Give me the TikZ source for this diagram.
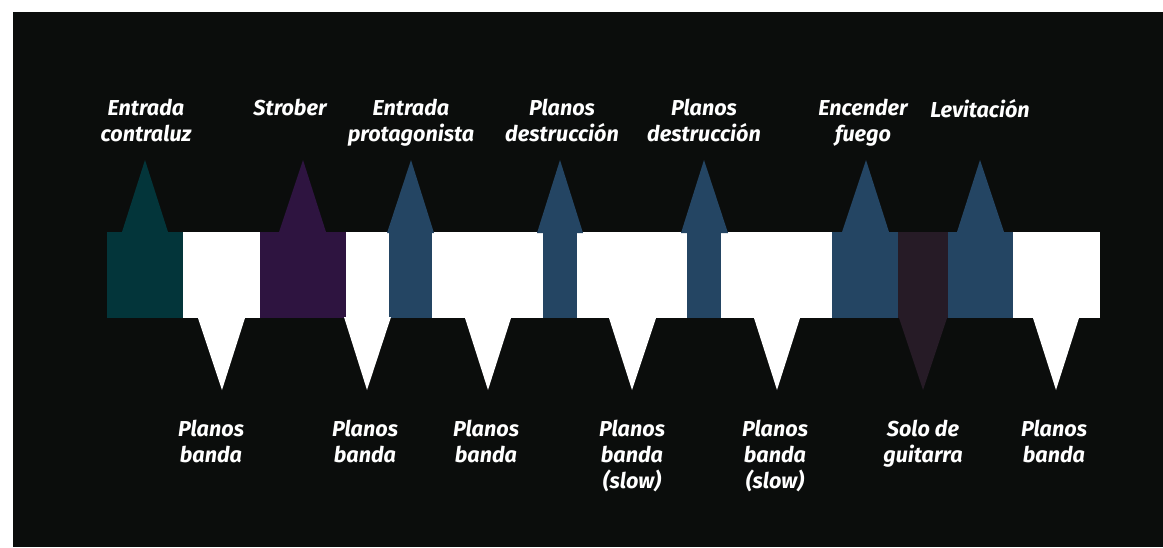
\documentclass[tikz,border=0pt]{standalone}
\usepackage{fontspec}
\setmainfont{Fira Sans}
\definecolor{bgdark}{HTML}{0B0D0C}
\definecolor{cteal}{HTML}{03353A}
\definecolor{cpurple}{HTML}{2E1440}
\definecolor{cblue}{HTML}{244563}
\definecolor{cplum}{HTML}{261B26}
\tikzset{
  lbl/.style={text=white, font=\fontsize{21.6}{26}\selectfont\bfseries\itshape, align=center, inner sep=0pt, anchor=north},
}
\begin{document}
\begin{tikzpicture}[x=1pt,y=-1pt]
\useasboundingbox (0,0) rectangle (1163,547);
\fill[white] (0,0) rectangle (1163,547);
\fill[bgdark] (13,12) rectangle (1163,547);
% band segments
\fill[cteal]   (107,232) rectangle (183,318);
\fill[white]   (183,232) rectangle (260,318);
\fill[cpurple] (260,232) rectangle (346,318);
\fill[white]   (346,232) rectangle (389,318);
\fill[cblue]   (389,232) rectangle (432,318);
\fill[white]   (432,232) rectangle (543,318);
\fill[cblue]   (543,232) rectangle (577,318);
\fill[white]   (577,232) rectangle (687,318);
\fill[cblue]   (687,232) rectangle (721,318);
\fill[white]   (721,232) rectangle (832,318);
\fill[cblue]   (832,232) rectangle (898,318);
\fill[cplum]   (898,232) rectangle (948,318);
\fill[cblue]   (948,232) rectangle (1013,318);
\fill[white]   (1013,232) rectangle (1100,318);
% up triangles
\fill[cteal]   (122,232) -- (145,160) -- (168,232) -- cycle;
\fill[cpurple] (279,232) -- (303,160) -- (326,232) -- cycle;
\fill[cblue]   (387,233) -- (411,160) -- (434,233) -- cycle;
\fill[cblue]   (537,233) -- (560,160) -- (583,233) -- cycle;
\fill[cblue]   (681,233) -- (704,160) -- (728,233) -- cycle;
\fill[cblue]   (842,232) -- (866,160) -- (889,232) -- cycle;
\fill[cblue]   (957,232) -- (980,160) -- (1004,232) -- cycle;
% down triangles
\fill[white]   (198,318) -- (222,390) -- (245,318) -- cycle;
\fill[white]   (344,317) -- (367,390) -- (391,317) -- cycle;
\fill[white]   (465,318) -- (488,390) -- (511,318) -- cycle;
\fill[white]   (609,318) -- (632,390) -- (656,318) -- cycle;
\fill[white]   (754,318) -- (777,390) -- (800,318) -- cycle;
\fill[cplum]   (899,318) -- (923,390) -- (947,318) -- cycle;
\fill[white]   (1033,318) -- (1056,390) -- (1079,318) -- cycle;
% top labels
\node[lbl] (t1) at (146,99) {Entrada\\contraluz};
\node[lbl] (t2) at (290,99) {Strober};
\node[lbl] (t3) at (411,99) {Entrada\\protagonista};
\node[lbl] (t4) at (562,99) {Planos\\destrucción};
\node[lbl] (t5) at (704,99) {Planos\\destrucción};
\node[lbl] (t6) at (863,99) {Encender\\fuego};
\node[lbl] (t7) at (980,99) {Levitación};
% bottom labels
\node[lbl] (b1) at (211,420) {Planos\\banda};
\node[lbl] (b2) at (365,420) {Planos\\banda};
\node[lbl] (b3) at (486,420) {Planos\\banda};
\node[lbl] (b4) at (632,420) {Planos\\banda\\(slow)};
\node[lbl] (b5) at (775,420) {Planos\\banda\\(slow)};
\node[lbl] (b6) at (923,420) {Solo de\\guitarra};
\node[lbl] (b7) at (1054,420) {Planos\\banda};
\end{tikzpicture}
\end{document}
